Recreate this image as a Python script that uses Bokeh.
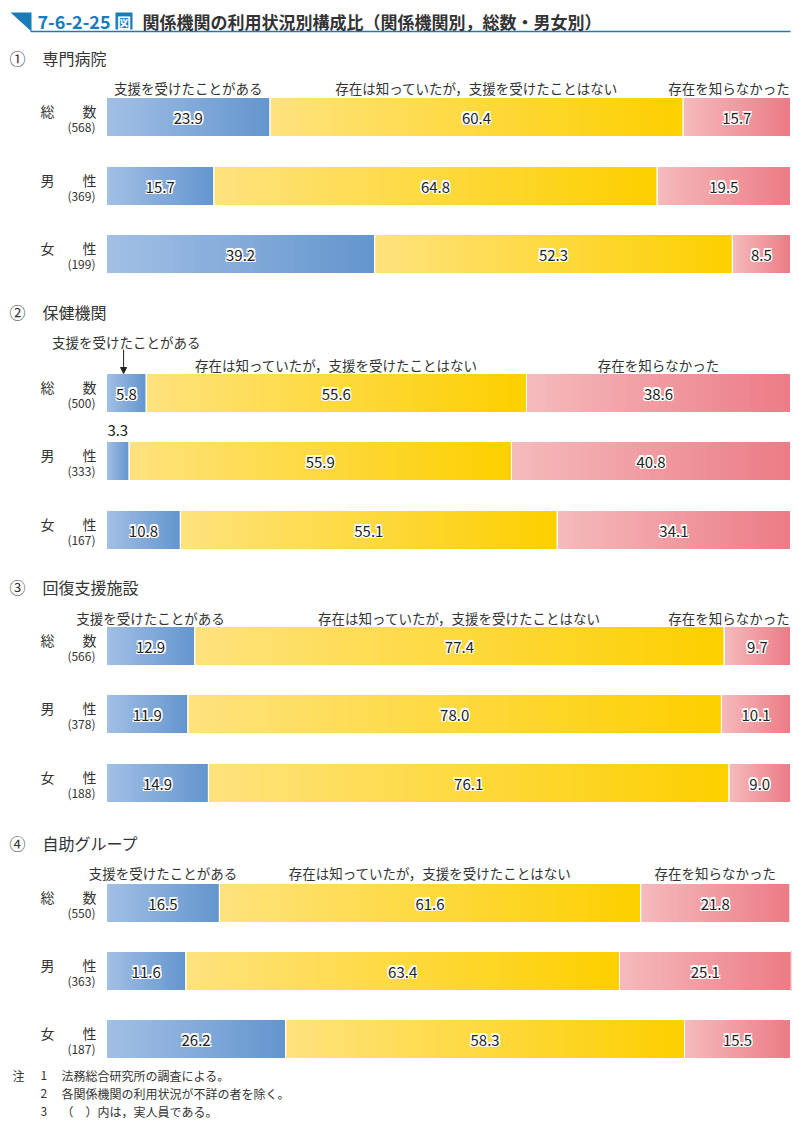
from bokeh.plotting import figure
from bokeh.models import Range1d, Arrow, NormalHead
from bokeh.core.properties import value
from bokeh.embed import file_html
from bokeh.resources import INLINE
import numpy as np

# ---------------- data ----------------
panel_names = ["① 専門病院", "② 保健機関", "③ 回復支援施設", "④ 自助グループ"]
row_labels = ["総　　数", "男　　性", "女　　性"]
series_names = ["支援を受けたことがある", "存在は知っていたが，支援を受けたことはない", "存在を知らなかった"]
hospital_n = [568, 369, 199]
health_n = [500, 333, 167]
rehab_n = [566, 378, 188]
group_n = [550, 363, 187]
received = [[23.9, 15.7, 39.2], [5.8, 3.3, 10.8], [12.9, 11.9, 14.9], [16.5, 11.6, 26.2]]
known = [[60.4, 64.8, 52.3], [55.6, 55.9, 55.1], [77.4, 78.0, 76.1], [61.6, 63.4, 58.3]]
unknown = [[15.7, 19.5, 8.5], [38.6, 40.8, 34.1], [9.7, 10.1, 9.0], [21.8, 25.1, 15.5]]
notes = ["法務総合研究所の調査による。", "各関係機関の利用状況が不詳の者を除く。", "（　）内は，実人員である。"]

counts = [hospital_n, health_n, rehab_n, group_n]

# ---------------- layout ----------------
W, H = 799, 1138
BAR_L, BAR_R = 106, 790
PX = (BAR_R - BAR_L) / 100.0


def xp(page_x):
    return (page_x - BAR_L) / PX


FONT = value("Noto Sans CJK JP")
TXT = "#333333"
p = figure(width=W, height=H, output_backend="svg", toolbar_location=None,
           x_range=Range1d(xp(0), xp(W)), y_range=Range1d(H, 0),
           min_border=0, outline_line_color=None, background_fill_color="white",
           border_fill_color="white")
p.axis.visible = False
p.xgrid.visible = False
p.ygrid.visible = False

colors = [("#A2BFE5", "#6496CE"), ("#FEE27C", "#FDD000"), ("#F5BABC", "#EC7C86")]


def mix(c1, c2, t):
    a = [int(c1[i:i + 2], 16) for i in (1, 3, 5)]
    b = [int(c2[i:i + 2], 16) for i in (1, 3, 5)]
    return "#%02x%02x%02x" % tuple(int(round(a[k] + (b[k] - a[k]) * t)) for k in range(3))


panel_top = [57, 311, 586, 842]
row_centers = [[116.5, 185.5, 253.5], [392.5, 460.5, 529.5], [645.5, 713.5, 782.5], [902.5, 970.5, 1038.5]]
series_label_y = [87, 364, 617, 872]
BH = 39

# title
p.patch(x=[xp(10), xp(31), xp(31)], y=[12, 12, 31], fill_color="#1A7BB9", line_color=None)
p.segment(x0=[xp(30)], y0=[31], x1=[xp(790)], y1=[31], line_color="#1A7BB9", line_width=1.5)
p.text(x=[xp(37)], y=[21], text=["7-6-2-25"], text_font=FONT, text_font_style="bold",
       text_font_size="18px", text_color="#1A7BB9", text_baseline="middle")
p.quad(left=[xp(115)], right=[xp(132)], top=[12], bottom=[29], fill_color="#1A7BB9", line_color=None)
p.text(x=[xp(123.5)], y=[21], text=["図"], text_font=FONT, text_font_style="bold",
       text_font_size="14px", text_color="white", text_baseline="middle", text_align="center")
p.text(x=[xp(142)], y=[21], text=["関係機関の利用状況別構成比（関係機関別，総数・男女別）"], text_font=FONT,
       text_font_style="bold", text_font_size="17px", text_color=TXT, text_baseline="middle")

NSTRIP = 40
halo = [(dx, dy) for dx in (-1.3, 0, 1.3) for dy in (-1.3, 0, 1.3) if (dx, dy) != (0, 0)]
for k in range(4):
    # panel header
    mark, name = panel_names[k].split(" ")
    p.text(x=[xp(17)], y=[panel_top[k]], text=[mark], text_font=FONT, text_font_size="16px",
           text_color=TXT, text_baseline="middle", text_align="center")
    p.text(x=[xp(42)], y=[panel_top[k]], text=[name], text_font=FONT, text_font_size="16px",
           text_color=TXT, text_baseline="middle")
    for r in range(3):
        vals = [received[k][r], known[k][r], unknown[k][r]]
        cum = np.concatenate([[0], np.cumsum(vals)])
        yc = row_centers[k][r]
        lefts, rights, fills = [], [], []
        for s in range(3):
            edges = np.linspace(cum[s], cum[s + 1], NSTRIP + 1)
            for i in range(NSTRIP):
                lefts.append(edges[i])
                rights.append(cum[s + 1])
                fills.append(mix(colors[s][0], colors[s][1], i / (NSTRIP - 1)))
        p.quad(left=lefts, right=rights, top=[yc - BH / 2] * len(lefts), bottom=[yc + BH / 2] * len(lefts),
               fill_color=fills, line_color=None)
        p.quad(left=list(cum[:-1]), right=list(cum[1:]), top=[yc - BH / 2] * 3, bottom=[yc + BH / 2] * 3,
               fill_alpha=0, line_color="white", line_width=1)
        # value labels
        tx, ty, tt = [], [], []
        for s in range(3):
            if vals[s] * PX < 30:
                p.text(x=[(cum[s] + cum[s + 1]) / 2], y=[yc - BH / 2 - 11], text=["%.1f" % vals[s]],
                       text_font=FONT, text_font_size="15px", text_color="#222222",
                       text_align="center", text_baseline="middle")
                continue
            tx.append((cum[s] + cum[s + 1]) / 2)
            ty.append(yc + 1)
            tt.append("%.1f" % vals[s])
        for dx, dy in halo:
            p.text(x=[t + dx / PX for t in tx], y=[t + dy for t in ty], text=tt, text_font=FONT,
                   text_font_size="15px", text_color="white", text_align="center", text_baseline="middle")
        p.text(x=tx, y=ty, text=tt, text_font=FONT, text_font_size="15px", text_color="#222222",
               text_align="center", text_baseline="middle")
        # row labels
        p.text(x=[xp(96)], y=[yc - 6.5], text=[row_labels[r]], text_font=FONT, text_font_size="14px",
               text_color=TXT, text_align="right", text_baseline="middle")
        p.text(x=[xp(95)], y=[yc + 9], text=["(%d)" % counts[k][r]], text_font=FONT, text_font_size="12px",
               text_color=TXT, text_align="right", text_baseline="middle")
    # series header labels above first row
    vals = [received[k][0], known[k][0], unknown[k][0]]
    cum = np.concatenate([[0], np.cumsum(vals)])
    for s in range(3):
        c = (cum[s] + cum[s + 1]) / 2
        half = len(series_names[s]) * 13.5 / 2 / PX
        ly = series_label_y[k]
        if vals[s] * PX < 60:
            ly = series_label_y[k] - 23
            p.add_layout(Arrow(end=NormalHead(size=6, fill_color="#222222", line_color="#222222"),
                               x_start=c - 0.4, y_start=ly + 8, x_end=c - 0.4, y_end=row_centers[k][0] - BH / 2,
                               line_color="#222222", line_width=1))
        if c + half > 99.9:
            p.text(x=[99.9], y=[ly], text=[series_names[s]], text_font=FONT, text_font_size="13.5px",
                   text_color=TXT, text_align="right", text_baseline="middle")
        else:
            p.text(x=[c], y=[ly], text=[series_names[s]], text_font=FONT, text_font_size="13.5px",
                   text_color=TXT, text_align="center", text_baseline="middle")

# notes
for i, n in enumerate(notes):
    y = 1075 + 18 * i
    if i == 0:
        p.text(x=[xp(12)], y=[y], text=["注"], text_font=FONT, text_font_size="12px",
               text_color=TXT, text_baseline="middle")
    p.text(x=[xp(40)], y=[y], text=[str(i + 1)], text_font=FONT, text_font_size="12px",
           text_color=TXT, text_baseline="middle")
    p.text(x=[xp(61)], y=[y], text=[n], text_font=FONT, text_font_size="12px",
           text_color=TXT, text_baseline="middle")

open("out.html", "w").write(file_html(p, INLINE))
